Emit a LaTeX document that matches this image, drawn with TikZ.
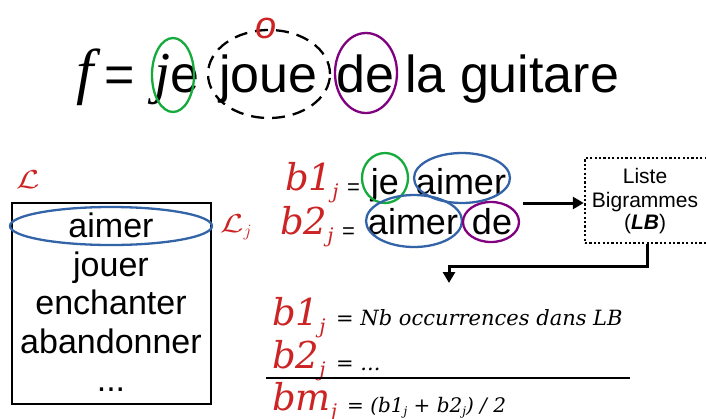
\documentclass[tikz,border=0pt]{standalone}
\usepackage{fontspec}
\setmainfont{Liberation Sans}
\newfontfamily\dvs{DejaVu Serif}
\newfontfamily\lser{Liberation Serif}
\usetikzlibrary{shapes.geometric,arrows.meta}
\definecolor{myred}{RGB}{204,36,36}
\definecolor{mygreen}{RGB}{20,170,60}
\definecolor{myblue}{RGB}{52,100,168}
\definecolor{mypurple}{RGB}{128,0,128}
\tikzset{
  big/.style={anchor=base west,inner sep=0pt,font=\fontsize{52}{52}\selectfont},
  word/.style={anchor=base,inner sep=0pt,font=\fontsize{34}{34}\selectfont},
  midword/.style={anchor=base,inner sep=0pt,font=\fontsize{36}{36}\selectfont},
  ring/.style={ellipse,line width=2.3pt,inner sep=0pt},
  redb/.style={anchor=base west,inner sep=0pt,text=myred,font=\dvs\itshape\fontsize{37}{37}\selectfont},
  eq/.style={anchor=base west,inner sep=0pt,font=\dvs\itshape\fontsize{21}{21}\selectfont},
  lbtext/.style={anchor=base,inner sep=0pt,font=\fontsize{21}{21}\selectfont},
  thickarrow/.style={line width=3pt,-{Triangle[length=11pt,width=12pt]}},
}
\newcommand{\subj}[1]{\raisebox{-8pt}{\fontsize{20}{20}\selectfont #1}}
\newcommand{\smsub}[1]{\raisebox{-3pt}{\fontsize{12}{12}\selectfont #1}}
\newcommand{\bigL}{\scalebox{3.4}[2.6]{$\mathcal{L}$}}
\begin{document}
\begin{tikzpicture}[x=1pt,y=-1pt]
\useasboundingbox (0,0) rectangle (706,418);
% top sentence
\node[big,font=\lser\itshape\fontsize{62}{62}\selectfont] (f) at (76,92) {f};
\node[big] (eqtop) at (104,92) {=};
\node[big] (je) at (154,92) {{\lser\itshape\fontsize{58}{58}\selectfont j}e};
\node[big] (joue) at (219,92) {joue};
\node[big] (de) at (336,92) {de};
\node[big] (la) at (405,92) {la guitare};
\node[ring,draw=mygreen,minimum width=42pt,minimum height=74pt] (eje) at (173,75) {};
\node[ring,draw=black,dash pattern=on 13pt off 8pt,minimum width=122pt,minimum height=88pt] (ejoue) at (269,74) {};
\node[ring,draw=mypurple,minimum width=62pt,minimum height=80pt] (ede) at (366,73) {};
\node[text=myred,font=\itshape\fontsize{38}{38}\selectfont,anchor=base,inner sep=0pt] (o) at (266,38) {o};
% lexicon box
\node[text=myred,inner sep=0pt,anchor=base west] (L) at (16,188) {\bigL};
\node[draw,line width=1.5pt,minimum width=199pt,minimum height=201pt,inner sep=0pt] (box) at (111.5,303.5) {};
\node[word] (w1) at (111,237) {aimer};
\node[word] (w2) at (111,276) {jouer};
\node[word] (w3) at (111,314) {enchanter};
\node[word] (w4) at (111,353) {abandonner};
\node[word] (w5) at (111,391) {...};
\node[ring,draw=myblue,minimum width=202pt,minimum height=38pt] (ew1) at (111,226) {};
\node[text=myred,inner sep=0pt,anchor=base west] (Lj) at (220,232) {\bigL\raisebox{-4pt}{\fontsize{17}{17}\selectfont$j$}};
% bigrams
\node[redb] (b1) at (285,190) {b1\subj{j}};
\node[anchor=base west,inner sep=0pt,font=\fontsize{22}{22}\selectfont] (eq1) at (347,194) {=};
\node[midword] (je2) at (385,194) {je};
\node[midword] (aimer1) at (461,194) {aimer};
\node[ring,draw=mygreen,minimum width=46pt,minimum height=50pt] (eje2) at (385,178) {};
\node[ring,draw=myblue,minimum width=96pt,minimum height=50pt] (eai1) at (462,178) {};
\node[redb] (b2) at (280,234) {b2\subj{j}};
\node[anchor=base west,inner sep=0pt,font=\fontsize{22}{22}\selectfont] (eq2) at (342,238) {=};
\node[midword] (aimer2) at (413,234) {aimer};
\node[midword] (de2) at (492,234) {de};
\node[ring,draw=myblue,minimum width=96pt,minimum height=52pt] (eai2) at (414,221) {};
\node[ring,draw=mypurple,minimum width=56pt,minimum height=40pt] (ede2) at (491,222) {};
% LB box
\node[draw,line width=2.5pt,dash pattern=on 2.2pt off 2.2pt,minimum width=124pt,minimum height=85pt,inner sep=0pt] (lb) at (647,200.5) {};
\node[lbtext] (t1) at (645,183) {Liste};
\node[lbtext] (t2) at (645,207) {Bigrammes};
\node[lbtext] (t3) at (645,229) {(\textbf{\textit{LB}})};
\coordinate (a1) at (523,203);
\draw[thickarrow] (a1) -- (lb.west |- a1);
\coordinate (c1) at (647,266);
\coordinate (c2) at (449,266);
\coordinate (c3) at (449,283);
\draw[thickarrow] (lb.south) -- (c1) -- (c2) -- (c3);
% formulas
\node[redb] (fb1) at (272,325) {b1\subj{j}};
\node[eq] (fe1) at (336,325) {= Nb occurrences dans LB};
\node[redb] (fb2) at (272,368) {b2\subj{j}};
\node[eq] (fe2) at (336,370) {= ...};
\coordinate (l1) at (266,378);
\coordinate (l2) at (630,378);
\draw[line width=2.5pt] (l1) -- (l2);
\node[redb] (fbm) at (272,410) {bm\subj{j}};
\node[eq,font=\dvs\itshape\fontsize{20}{20}\selectfont] (fe3) at (347,412) {= (b1\smsub{j} + b2\smsub{j}) / 2};
\end{tikzpicture}
\end{document}
